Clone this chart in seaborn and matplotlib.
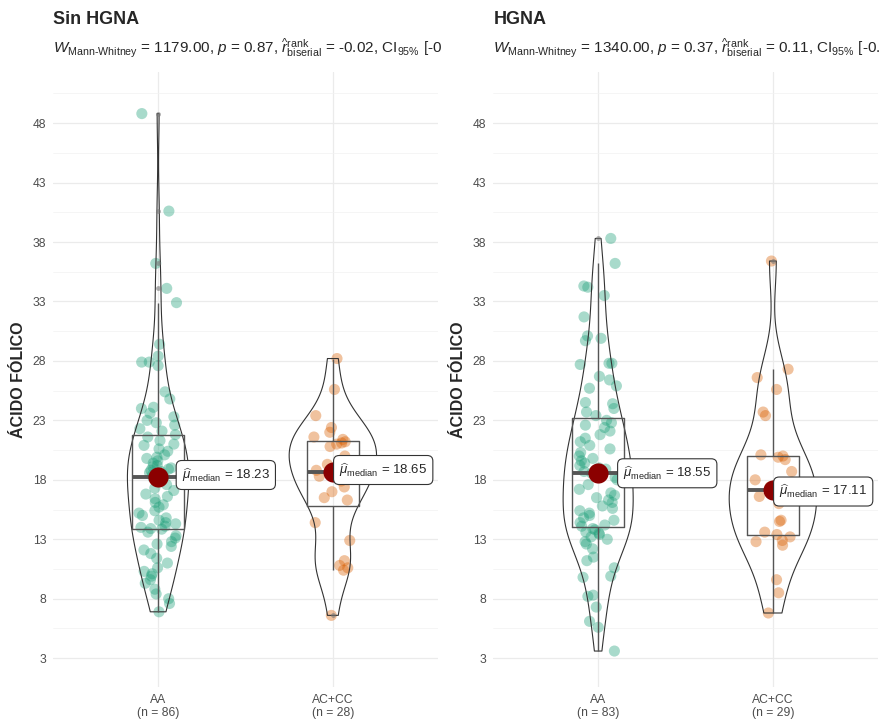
import numpy as np
import pandas as pd
import seaborn as sns
import matplotlib.pyplot as plt
from matplotlib.ticker import FixedLocator
from matplotlib.transforms import Bbox, TransformedBbox

# Acido folico por genotipo
sin_aa = [48.8, 40.6, 36.2, 34.1, 32.9, 29.4, 28.4, 27.9, 27.9, 27.6, 25.4,
          24.8, 24.1, 24.0, 23.6, 23.3, 23.0, 22.8, 22.6, 22.3, 22.1,
          21.8, 21.6, 21.3, 21.0, 20.9, 20.6, 20.4, 20.1, 19.9, 19.8, 19.6,
          19.4, 19.2, 19.1, 19.0, 18.9, 18.8, 18.7, 18.6, 18.5, 18.4, 18.3,
          18.16, 17.9, 17.6, 17.3, 17.1, 16.8, 16.6, 16.4, 16.1, 15.9, 15.7,
          15.4, 15.2, 15.0, 14.8, 14.6, 14.4, 14.3, 14.1, 14.0, 13.9, 13.85,
          13.6, 13.3, 13.1, 12.8, 12.6, 12.4, 12.1, 11.8, 11.4, 11.0, 10.6,
          10.3, 10.1, 9.9, 9.6, 9.3, 8.8, 8.4, 8.0, 7.6, 6.9]
sin_accc = [6.6, 10.4, 10.6, 10.8, 11.2, 12.9, 14.4, 16.3, 16.5, 17.0, 17.4,
            17.9, 18.3, 18.5, 18.8, 19.3, 20.0, 20.8, 21.0, 21.1, 21.2, 21.4,
            21.6, 22.0, 22.4, 23.4, 25.6, 28.2]
hgna_aa = [38.3, 36.2, 34.3, 34.2, 33.5, 31.7, 30.1, 29.9, 29.7, 27.8, 27.8,
           27.7, 26.7, 26.4, 25.9, 25.7, 24.5, 24.4, 24.0, 23.7, 23.4,
           23.0, 22.8, 22.6, 22.4, 22.1, 21.8, 21.5, 21.2, 20.9, 20.6, 20.3,
           20.0, 19.8, 19.6, 19.4, 19.2, 19.0, 18.9, 18.8, 18.7, 18.55,
           18.4, 18.2, 18.0, 17.6, 17.2, 16.9, 16.7, 16.5, 16.3, 16.1, 15.8,
           15.6, 15.4, 15.2, 15.0, 14.8, 14.6, 14.4, 14.2, 14.1,
           13.9, 13.8, 13.6, 13.5, 13.4, 13.2, 13.0, 12.8, 12.6, 12.2, 11.5,
           11.2, 10.6, 9.9, 9.8, 8.3, 8.2, 7.3, 6.1, 5.6, 3.6]
hgna_accc = [6.8, 8.5, 9.6, 12.5, 12.8, 12.9, 13.2, 13.4, 13.6, 14.5, 14.6,
             16.0, 16.6, 17.0, 17.11, 17.4, 17.6, 18.0, 18.7, 19.7, 19.9,
             20.0, 20.1, 23.4, 23.7, 25.6, 26.6, 27.3, 36.4]

genotipos = ["AA", "AC+CC"]
paneles = ["Sin HGNA", "HGNA"]
datos = [[sin_aa, sin_accc], [hgna_aa, hgna_accc]]
# subtitulos tal como se ven (cortados por el borde del panel)
subtitulos = [
    r"$W_{\mathrm{Mann\text{-}Whitney}}$ = 1179.00, $p$ = 0.87, "
    r"$\widehat{r}_{\mathrm{biserial}}^{\mathrm{rank}}$ = -0.02, "
    r"CI$_{95\%}$ [-0",
    r"$W_{\mathrm{Mann\text{-}Whitney}}$ = 1340.00, $p$ = 0.37, "
    r"$\widehat{r}_{\mathrm{biserial}}^{\mathrm{rank}}$ = 0.11, "
    r"CI$_{95\%}$ [-0.",
]
y_ticks = [3, 8, 13, 18, 23, 28, 33, 38, 43, 48]
colores = ["#1B9E77", "#D95F02"]

sns.set_style("white")
plt.rcParams["font.family"] = ["Liberation Sans", "DejaVu Sans"]
plt.rcParams["mathtext.fontset"] = "custom"
plt.rcParams["mathtext.rm"] = "Liberation Sans"
plt.rcParams["mathtext.it"] = "Liberation Sans:italic"
plt.rcParams["mathtext.bf"] = "Liberation Sans:bold"

np.random.seed(7)

fig = plt.figure(figsize=(8.94, 7.19), dpi=100)
posiciones = [[0.0596, 0.0449, 0.430, 0.855], [0.5518, 0.0449, 0.430, 0.855]]
# desplazamiento de las etiquetas de la mediana (puntos)
offsets = [[(17, 1.5), (4.5, 1.5)], [(18, 0), (4.5, -0.8)]]

for k, panel in enumerate(paneles):
    ax = fig.add_axes(posiciones[k])
    grupos = datos[k]
    df = pd.DataFrame({
        "genotipo": np.repeat(genotipos, [len(g) for g in grupos]),
        "acido": np.concatenate(grupos),
    })

    sns.stripplot(data=df, x="genotipo", y="acido", hue="genotipo",
                  order=genotipos, hue_order=genotipos, palette=colores,
                  jitter=0.11, size=8, alpha=0.38, linewidth=0,
                  legend=False, ax=ax, zorder=1)
    sns.boxplot(data=df, x="genotipo", y="acido", order=genotipos,
                width=0.3, fill=False, color="#555555", linewidth=1.0,
                showcaps=False,
                medianprops=dict(linewidth=2.8, color="#555555"),
                flierprops=dict(marker="o", markersize=3.5,
                                markerfacecolor="#777777",
                                markeredgecolor="none", alpha=0.6),
                ax=ax)
    sns.violinplot(data=df, x="genotipo", y="acido", order=genotipos,
                   fill=False, inner=None, cut=0, density_norm="area",
                   width=0.5, bw_adjust=0.8, color="#333333",
                   linewidth=0.8, ax=ax)

    medianas = df.groupby("genotipo")["acido"].median().reindex(genotipos)
    ax.scatter(range(len(genotipos)), medianas.values, s=210,
               color="#8B0000", zorder=5, linewidth=0)
    for i, med in enumerate(medianas.values):
        ax.annotate(r"$\widehat{\mu}_{\mathrm{median}}$"
                    + f" = {med:.2f}",
                    xy=(i, med), xytext=offsets[k][i],
                    textcoords="offset points", ha="left", va="center",
                    fontsize=9.5, zorder=6,
                    bbox=dict(boxstyle="round,pad=0.42", fc="white",
                              ec="#333333", lw=0.8))

    ns = [len(g) for g in grupos]
    ax.set_xticks(range(len(genotipos)))
    ax.set_xticklabels([f"{g}\n(n = {n})" for g, n in zip(genotipos, ns)],
                       fontsize=8.7, color="#4D4D4D")
    ax.set_xlim(-0.6, 1.6)
    ax.set_ylim(0.6, 52.3)
    ax.set_yticks(y_ticks)
    ax.set_yticklabels([str(t) for t in y_ticks], fontsize=8.7,
                       color="#4D4D4D")
    ax.yaxis.set_minor_locator(FixedLocator([t - 2.5 for t in y_ticks] +
                                            [y_ticks[-1] + 2.5]))
    ax.tick_params(axis="both", which="major", length=3, width=0.8,
                   color="#333333", pad=2)
    ax.tick_params(axis="y", which="minor", length=0)
    ax.set_axisbelow(True)
    ax.grid(True, which="major", color="#EBEBEB", linewidth=0.9)
    ax.grid(True, which="minor", axis="y", color="#F2F2F2", linewidth=0.5)
    for s in ax.spines.values():
        s.set_visible(False)
    ax.set_xlabel("")
    ax.set_ylabel("ÁCIDO FÓLICO", fontsize=11.5, fontweight="bold")
    ax.yaxis.set_label_coords(-0.072, 0.5)

    x0 = posiciones[k][0]
    fig.text(x0, 1 - 20 / 719, panel, fontsize=13, fontweight="bold",
             ha="left", va="center")
    sub = fig.text(x0, 1 - 54 / 719, subtitulos[k], fontsize=11,
                   ha="left", va="baseline")
    caja = Bbox([[0, 0], [0.4995 + 0.5 * k, 1]])
    sub.set_clip_box(TransformedBbox(caja, fig.transFigure))
    sub.set_clip_on(True)

fig.savefig("out.png", dpi=100, facecolor="white")
